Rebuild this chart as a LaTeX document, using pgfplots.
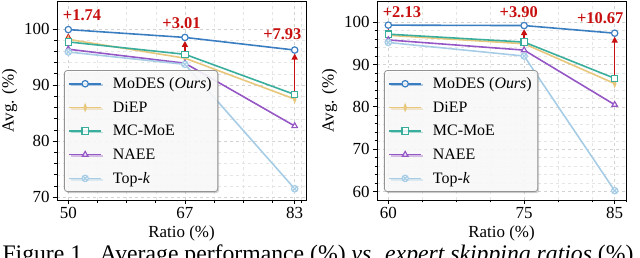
\documentclass[border=0pt]{standalone}
\usepackage{pgfplots}
\pgfplotsset{compat=1.18}
\usepackage{fontspec}
\setmainfont{Liberation Serif}
\usetikzlibrary{shadows,arrows.meta}
\definecolor{cMoDES}{HTML}{3A7EC1}
\definecolor{cDiEP}{HTML}{E8C77D}
\definecolor{cMC}{HTML}{3AAE9C}
\definecolor{cNAEE}{HTML}{9657C6}
\definecolor{cTopk}{HTML}{A7CDE6}
\definecolor{cRed}{HTML}{C81010}
\tikzset{
 annot/.style={cRed, font=\bfseries\fontsize{16.5}{16.5}\selectfont},
 arr/.style={cRed, line width=1.4pt, -{Triangle[length=6bp,width=6bp]}, shorten <=3bp, shorten >=3.5bp},
}
\pgfplotsset{
 mystyle/.style={
  scale only axis, width=249bp, height=199bp,
  axis line style={line width=0.9pt},
  tick align=outside, xtick pos=bottom, ytick pos=left,
  major tick length=4bp, minor tick length=2.5bp,
  every tick/.style={black, line width=0.8pt},
  grid=both,
  major grid style={dashed, gray!35, line width=0.5pt},
  minor grid style={dashed, gray!20, line width=0.4pt},
  tick label style={font=\fontsize{17}{17}\selectfont},
  label style={font=\fontsize{17}{17}\selectfont},
  /pgf/number format/assume math mode=true,
  ylabel={Avg. (\%)}, xlabel={Ratio (\%)},
  minor y tick num=4,
  legend cell align=left,
  legend style={at={(0.028,0.04)}, anchor=south west,
    draw=gray!85, line width=0.8pt, rounded corners=3bp,
    fill=white, fill opacity=0.85, text opacity=1,
    drop shadow={shadow xshift=1.5bp, shadow yshift=-1.5bp, opacity=0.35},
    font=\fontsize{16}{16}\selectfont, row sep=7.5bp, inner xsep=4bp, inner ysep=5bp,
    /tikz/every odd column/.append style={column sep=9bp}},
  legend image code/.code={\draw[mark repeat=2,mark phase=2] plot coordinates {(0bp,0bp) (16bp,0bp) (32bp,0bp)};},
  every axis plot/.append style={line width=1.6pt, mark size=3.2pt},
 },
 sMoDES/.style={color=cMoDES, mark=*, mark options={fill=white, line width=1.2pt}},
 sDiEP/.style={color=cDiEP, mark=diamond*, mark options={fill=cDiEP, xscale=0.5, line width=1.2pt}},
 sMC/.style={color=cMC, mark=square*, mark options={fill=white, line width=1.2pt}},
 sNAEE/.style={color=cNAEE, mark=triangle*, mark options={fill=white, line width=1.2pt}},
 sTopk/.style={color=cTopk, mark=otimes*, mark options={fill=white, line width=1.2pt}},
}
\begin{document}
\begin{tikzpicture}
\begin{axis}[mystyle, at={(57bp,58bp)}, anchor=south west,
  xmin=48.35, xmax=84.65, ymin=69.5, ymax=105,
  xtick={50,67,83}, ytick={70,80,90,100},
  minor xtick={54.25,58.5,62.75,71.25,75.5,79.75,84}]
\addplot[sMoDES] coordinates {(50,99.9)(67,98.5)(83,96.25)};
\addlegendentry{MoDES (\textit{Ours})}
\addplot[sDiEP] coordinates {(50,98.16)(67,94.8)(83,87.5)};
\addlegendentry{DiEP}
\addplot[sMC] coordinates {(50,97.7)(67,95.49)(83,88.32)};
\addlegendentry{MC-MoE}
\addplot[sNAEE] coordinates {(50,96.4)(67,93.9)(83,82.7)};
\addlegendentry{NAEE}
\addplot[sTopk] coordinates {(50,95.9)(67,93.7)(83,71.5)};
\addlegendentry{Top-\textit{k}}
\draw[arr] (axis cs:50,98.16) -- (axis cs:50,99.9);
\draw[arr] (axis cs:67,95.49) -- (axis cs:67,98.5);
\draw[arr] (axis cs:83,88.32) -- (axis cs:83,96.25);
\node[annot] at (axis cs:52,102.4) {+1.74};
\node[annot] at (axis cs:66.5,101.1) {+3.01};
\node[annot] at (axis cs:81.2,99.0) {+7.93};
\end{axis}
\begin{axis}[mystyle, at={(377bp,58bp)}, anchor=south west,
  xmin=58.75, xmax=86.25, ymin=58, ymax=105,
  xtick={60,75,85}, ytick={60,70,80,90,100},
  minor xtick={63.75,67.5,71.25,78.75,82.5,86.25}]
\addplot[sMoDES] coordinates {(60,99.3)(75,99.2)(85,97.4)};
\addlegendentry{MoDES (\textit{Ours})}
\addplot[sDiEP] coordinates {(60,96.9)(75,94.9)(85,85.5)};
\addlegendentry{DiEP}
\addplot[sMC] coordinates {(60,97.17)(75,95.3)(85,86.73)};
\addlegendentry{MC-MoE}
\addplot[sNAEE] coordinates {(60,95.8)(75,93.4)(85,80.5)};
\addlegendentry{NAEE}
\addplot[sTopk] coordinates {(60,95.2)(75,92.0)(85,60.2)};
\addlegendentry{Top-\textit{k}}
\draw[arr] (axis cs:60,97.17) -- (axis cs:60,99.3);
\draw[arr] (axis cs:75,95.3) -- (axis cs:75,99.2);
\draw[arr] (axis cs:85,86.73) -- (axis cs:85,97.4);
\node[annot] at (axis cs:61.5,102.4) {+2.13};
\node[annot] at (axis cs:74.4,102.4) {+3.90};
\node[annot] at (axis cs:83.4,101.0) {+10.67};
\end{axis}
\node[anchor=base, font=\fontsize{23.8}{24}\selectfont] at (318bp,-3.3bp)
  {Figure 1.\ \ Average performance (\%) \textit{vs.} \textit{expert skipping ratios} (\%)};
\pgfresetboundingbox
\useasboundingbox (0,0) rectangle (640bp,258bp);
\end{tikzpicture}
\end{document}
